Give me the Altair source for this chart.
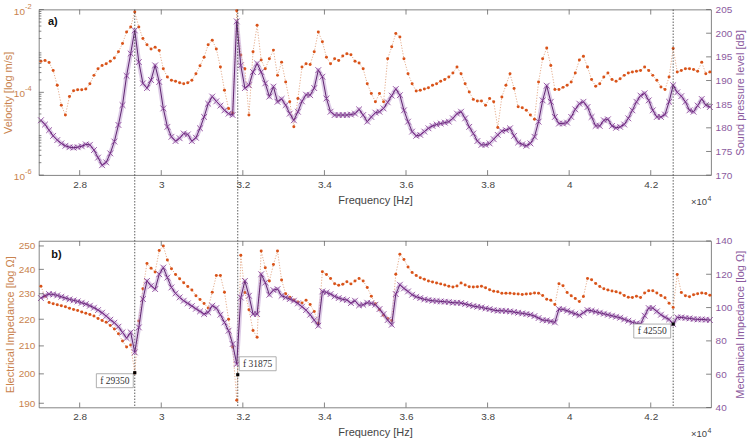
import altair as alt
import pandas as pd

# ---------------- measured sweep (100 Hz step) ----------------
freq_hz = list(range(27050, 43451, 100))

# a) surface velocity, stored as log10(m/s)
velocity_log10 = [
    -3.25, -3.23, -3.28, -3.47, -3.83, -4.31, -4.55, -4.10, -3.96, -3.94,
    -3.94, -3.92, -3.79, -3.59, -3.43, -3.35, -3.31, -3.25, -3.17, -3.02,
    -2.82, -2.54, -2.42, -2.06, -2.42, -2.70, -2.85, -2.95, -2.91, -2.99,
    -3.43, -3.63, -3.71, -3.73, -3.77, -3.79, -3.77, -3.71, -3.55, -3.36,
    -3.15, -2.85, -2.74, -2.95, -3.39, -3.95, -4.39, -4.50, -2.03, -3.10,
    -3.43, -4.55, -3.02, -2.38, -3.22, -3.43, -3.19, -2.98, -3.59, -3.27,
    -3.75, -4.23, -4.83, -4.15, -3.39, -3.31, -3.33, -3.02, -2.54, -2.78,
    -3.15, -3.31, -3.19, -3.23, -3.12, -3.07, -3.09, -3.25, -3.29, -3.43,
    -3.79, -4.03, -4.23, -4.03, -4.23, -3.19, -2.90, -2.58, -2.66, -3.19,
    -3.55, -3.79, -3.97, -3.95, -3.92, -3.89, -3.83, -3.79, -3.73, -3.69,
    -3.63, -3.53, -3.39, -3.55, -3.79, -3.99, -4.17, -4.21, -4.21, -4.31,
    -4.15, -4.23, -4.85, -4.11, -3.83, -3.55, -3.91, -4.35, -4.37, -4.43,
    -4.55, -4.65, -3.75, -3.19, -2.93, -3.35, -3.93, -3.93, -3.88, -3.83,
    -3.75, -3.53, -3.22, -3.13, -3.39, -3.69, -3.85, -3.79, -3.63, -3.53,
    -3.69, -3.73, -3.67, -3.59, -3.53, -3.51, -3.49, -3.47, -3.39, -3.47,
    -3.59, -3.71, -3.87, -3.93, -3.63, -2.94, -3.51, -3.47, -3.43, -3.43,
    -3.45, -3.49, -3.27, -3.55, -3.51,
]

# a) sound pressure level [dB]
spl_db = [
    181.6, 180.7, 179.5, 178.3, 177.4, 176.7, 176.2, 175.9, 175.8, 175.9,
    176.1, 176.5, 176.4, 175.3, 173.7, 172.1, 172.7, 174.6, 177.1, 180.6,
    184.8, 191.0, 195.7, 200.6, 193.9, 189.4, 188.4, 190.1, 193.2, 189.7,
    184.1, 180.2, 178.1, 177.2, 177.8, 178.8, 178.6, 177.2, 177.9, 179.9,
    182.3, 185.1, 186.6, 185.6, 184.7, 183.7, 183.0, 182.7, 202.5, 193.2,
    188.4, 189.0, 191.8, 193.6, 191.8, 189.4, 186.6, 188.7, 185.5, 186.1,
    184.8, 183.0, 181.6, 183.4, 185.6, 187.0, 186.9, 188.4, 192.2, 190.8,
    186.2, 183.4, 182.7, 182.7, 182.7, 182.7, 182.8, 183.0, 183.9, 182.7,
    181.3, 182.3, 183.2, 183.4, 184.1, 185.4, 186.8, 188.2, 186.9, 183.7,
    181.3, 179.2, 178.3, 178.5, 179.2, 179.9, 180.4, 180.7, 180.9, 181.1,
    181.3, 182.0, 183.0, 183.4, 182.0, 180.2, 178.8, 177.2, 176.4, 176.4,
    176.7, 177.6, 178.5, 179.3, 179.5, 179.9, 178.3, 176.9, 176.5, 176.2,
    176.7, 178.1, 181.3, 185.8, 188.9, 185.5, 182.3, 180.9, 180.9, 181.1,
    182.3, 183.9, 185.1, 185.5, 184.4, 182.3, 180.4, 180.4, 181.6, 181.8,
    180.4, 180.0, 180.2, 180.7, 182.0, 183.7, 185.5, 186.8, 187.3, 185.8,
    183.7, 182.3, 182.3, 182.8, 185.5, 189.0, 187.5, 186.7, 185.5, 183.7,
    183.4, 184.7, 186.1, 184.8, 184.4,
]

# b) electrical impedance [Ohm]
z_elec = [
    233.0, 229.0, 226.5, 226.0, 225.6, 225.2, 224.8, 224.3, 223.8, 223.4,
    222.8, 222.3, 221.8, 221.2, 220.3, 219.5, 218.8, 217.6, 216.3, 214.5,
    211.8, 209.6, 210.3, 200.3, 219.3, 232.0, 242.5, 240.5, 238.9, 248.0,
    250.0, 244.0, 240.3, 237.9, 236.1, 234.5, 232.9, 231.5, 229.2, 227.7,
    226.1, 224.4, 230.6, 237.4, 237.4, 230.6, 220.0, 209.6, 191.0, 246.0,
    230.5, 223.7, 215.7, 213.2, 247.8, 240.7, 235.2, 242.0, 247.8, 235.6,
    230.0, 228.6, 227.5, 226.7, 226.3, 227.4, 225.7, 223.0, 218.4, 239.0,
    237.9, 236.2, 234.1, 233.4, 233.8, 234.9, 234.0, 235.2, 236.2, 235.2,
    232.5, 229.0, 226.0, 223.7, 221.5, 220.3, 219.5, 238.0, 246.4, 244.2,
    241.0, 238.7, 237.4, 236.5, 235.9, 235.2, 234.8, 234.4, 234.0, 233.5,
    233.0, 232.7, 233.1, 234.4, 233.5, 232.8, 232.7, 232.8, 233.0, 232.4,
    231.6, 231.0, 230.8, 230.2, 230.2, 230.2, 230.0, 229.9, 229.7, 229.9,
    230.0, 230.3, 230.2, 229.3, 227.8, 227.4, 225.7, 234.1, 233.2, 230.5,
    229.2, 228.1, 226.9, 228.9, 236.2, 235.7, 234.2, 232.9, 232.0, 231.5,
    231.1, 230.8, 230.3, 229.3, 228.6, 228.5, 229.0, 228.5, 230.3, 231.2,
    231.2, 230.3, 229.3, 228.4, 226.2, 224.6, 237.9, 230.5, 229.2, 228.8,
    229.6, 230.0, 230.3, 230.1, 229.4,
]

# b) mechanical impedance [Ohm]
z_mech = [
    105.7, 107.1, 108.1, 107.9, 107.3, 106.5, 105.7, 104.9, 104.3, 103.7,
    102.9, 102.1, 101.1, 99.9, 98.5, 96.9, 94.9, 92.7, 90.9, 88.5,
    85.1, 81.7, 85.1, 73.1, 88.1, 105.1, 116.0, 113.1, 111.1, 120.0,
    124.0, 118.0, 112.1, 108.5, 106.1, 104.1, 102.5, 100.9, 99.3, 97.7,
    96.1, 97.1, 101.1, 99.7, 95.7, 91.1, 86.1, 78.1, 66.1, 106.0,
    116.0, 107.1, 96.1, 96.1, 120.0, 115.0, 107.7, 110.5, 111.1, 107.1,
    106.1, 105.1, 104.1, 102.5, 100.5, 98.5, 95.7, 92.5, 89.1, 109.7,
    109.1, 108.1, 106.7, 105.7, 104.9, 104.5, 102.7, 104.1, 101.3, 101.7,
    102.9, 102.5, 101.7, 99.1, 96.1, 92.5, 89.7, 108.1, 113.7, 111.5,
    109.7, 107.7, 106.5, 105.7, 104.9, 104.5, 104.1, 103.9, 103.7, 103.5,
    103.3, 102.9, 102.9, 102.7, 102.1, 101.5, 100.9, 100.5, 100.1, 99.5,
    99.1, 98.5, 98.1, 98.1, 97.9, 97.7, 97.3, 96.9, 96.5, 96.1,
    95.7, 94.9, 93.7, 92.5, 92.3, 91.7, 91.1, 99.1, 98.9, 98.1,
    97.1, 96.3, 95.3, 96.9, 98.5, 98.1, 97.5, 96.9, 96.3, 95.7,
    95.1, 94.5, 93.9, 92.9, 92.1, 91.1, 90.5, 90.1, 95.1, 99.7,
    99.7, 97.7, 95.7, 94.1, 92.9, 90.1, 94.1, 94.1, 93.7, 93.5,
    93.1, 92.9, 92.9, 92.7, 92.5,
]

# ---------------- ticks and data tips ----------------
x_ticks = [28000, 30000, 32000, 34000, 36000, 38000, 40000, 42000]
vel_ticks = [1e-6, 1e-4, 1e-2]
vel_exponents = ["-6", "-4", "-2"]
vel_minor = [m * 10.0 ** n for n in (-6, -5, -4, -3) for m in range(2, 10)]
spl_ticks = [170, 175, 180, 185, 190, 195, 200, 205]
ze_ticks = [190, 200, 210, 220, 230, 240, 250]
zm_ticks = [40, 60, 80, 100, 120, 140]

tip_freq = [29350, 31875, 42550]
tip_value = [200.4, 199.7, 90.1]
tip_label = ["f 29350", "f 31875", "f 42550"]

# ---------------- styling ----------------
ORANGE = "#D95319"
ORANGE_LINE = "#DA8A5E"
PURPLE = "#7E2F8E"
PURPLE_LINE = "#5E2470"
PURPLE_HALO = "#B48CC8"
LEFT_TXT = "#C9834E"
RIGHT_TXT = "#8B5A9E"
AXIS_TXT = "#444444"
FRAME = "#666666"
FONT = "Liberation Sans"
SERIF = "Liberation Serif"
W, HA, HB, GAP = 674, 166, 167, 66
TICK = 5
CROSS = "M-1,-1L1,1M-1,1L1,-1"
BOX = "M-1,-0.378H1V0.378H-1Z"

curves = pd.DataFrame({
    "freq": freq_hz,
    "vel": [10.0 ** e for e in velocity_log10],
    "spl": spl_db,
    "ze": z_elec,
    "zm": z_mech,
})
tips = pd.DataFrame({"freq": tip_freq, "val": tip_value, "label": tip_label})

X_SCALE = alt.Scale(domain=[27000, 43480], nice=False, zero=False)


def freq_axis(title_y):
    return alt.Axis(
        values=x_ticks, labelExpr="format(datum.value / 10000, '.1~f')",
        ticks=False, tickSize=0, domain=False, grid=False,
        labelFont=FONT, labelFontSize=10, labelColor=AXIS_TXT,
        labelPadding=9.5, labelBaseline="middle",
        title="Frequency [Hz]", titleFont=FONT, titleFontSize=11,
        titleFontWeight="normal", titleColor=AXIS_TXT,
        titleX=W / 2, titleY=title_y, titleBaseline="middle", titleAlign="center",
    )


def y_axis(orient, values, title, color, h, title_x, labels=True):
    return alt.Axis(
        orient=orient, values=values, labels=labels,
        ticks=False, tickSize=0, domain=False, grid=False,
        labelFont=FONT, labelFontSize=10, labelColor=color, labelPadding=4,
        labelBaseline="middle",
        title=title, titleFont=FONT, titleFontSize=11, titleFontWeight="normal",
        titleColor=color, titleAngle=270, titleX=title_x, titleY=h / 2,
        titleBaseline="middle", titleAlign="center",
    )


def build_panel(h, title_y):
    """Layer helpers for one panel; every layer carries the same x axis."""
    xa = freq_axis(title_y)

    def xenc():
        return alt.X("freq:Q", scale=X_SCALE, axis=xa)

    def yenc(field, yscale, axis=None):
        return alt.Y(f"{field}:Q", scale=yscale, axis=axis)

    layers = []

    def x_inward_ticks():
        tdf = pd.DataFrame({"freq": x_ticks})
        layers.append(alt.Chart(tdf).mark_rule(color=FRAME, strokeWidth=0.8).encode(
            x=xenc(), y=alt.value(h), y2=alt.value(h - TICK)))
        layers.append(alt.Chart(tdf).mark_rule(color=FRAME, strokeWidth=0.8).encode(
            x=xenc(), y=alt.value(0), y2=alt.value(TICK)))

    def y_inward_ticks(field, values, yscale, side, length=TICK):
        tdf = pd.DataFrame({field: values})
        if side == "left":
            xs = dict(x=alt.value(0), x2=alt.value(length))
        else:
            xs = dict(x=alt.value(W - length), x2=alt.value(W))
        layers.append(alt.Chart(tdf).mark_rule(color=FRAME, strokeWidth=0.8).encode(
            y=yenc(field, yscale), **xs))

    def orange_series(field, yscale, axis):
        layers.append(alt.Chart(curves).mark_line(
            color=ORANGE_LINE, strokeWidth=0.7, strokeDash=[1.2, 1.6]
        ).encode(x=xenc(), y=yenc(field, yscale, axis)))
        layers.append(alt.Chart(curves).mark_circle(color=ORANGE, size=9, opacity=1).encode(
            x=xenc(), y=yenc(field, yscale)))

    def purple_series(field, yscale, axis):
        layers.append(alt.Chart(curves).mark_line(
            color=PURPLE_HALO, strokeWidth=4.5, opacity=0.45, strokeJoin="round"
        ).encode(x=xenc(), y=yenc(field, yscale, axis)))
        layers.append(alt.Chart(curves).mark_line(color=PURPLE_LINE, strokeWidth=1.0).encode(
            x=xenc(), y=yenc(field, yscale)))
        layers.append(alt.Chart(curves).mark_point(
            shape=CROSS, size=34, filled=False, color=PURPLE, strokeWidth=0.9, opacity=0.85
        ).encode(x=xenc(), y=yenc(field, yscale)))

    def letter(text, px, py):
        layers.append(alt.Chart(pd.DataFrame({"t": [text]})).mark_text(
            font=FONT, fontSize=11, fontWeight="bold", color="#111111",
            align="center", baseline="middle",
        ).encode(x=alt.value(px), y=alt.value(py), text="t:N"))

    def multiplier():
        layers.append(alt.Chart(pd.DataFrame({"t": ["\u00d710"]})).mark_text(
            font=FONT, fontSize=9.5, color=AXIS_TXT, align="right", baseline="middle",
        ).encode(x=alt.value(W - 4), y=alt.value(h + 27), text="t:N"))
        layers.append(alt.Chart(pd.DataFrame({"t": ["4"]})).mark_text(
            font=FONT, fontSize=7, color=AXIS_TXT, align="left", baseline="middle",
        ).encode(x=alt.value(W - 3.5), y=alt.value(h + 24), text="t:N"))

    def tip(idx, field, yscale, dx, dy):
        one = tips.iloc[[idx]].rename(columns={"val": field})
        layers.append(alt.Chart(one).mark_point(
            shape=BOX, size=37 ** 2, filled=True, fill="#ffffff", stroke="#9c9c9c",
            strokeWidth=0.8, opacity=1, xOffset=dx, yOffset=dy,
        ).encode(x=xenc(), y=yenc(field, yscale)))
        layers.append(alt.Chart(one).mark_text(
            font=SERIF, fontSize=9.5, color="#333333", dx=dx, dy=dy,
            align="center", baseline="middle",
        ).encode(x=xenc(), y=yenc(field, yscale), text="label:N"))
        layers.append(alt.Chart(one).mark_square(size=10, color="#000000", opacity=1).encode(
            x=xenc(), y=yenc(field, yscale)))

    def tip_rules(total):
        layers.append(alt.Chart(tips).mark_rule(
            color="#333333", strokeWidth=0.8, strokeDash=[1.5, 1.5]
        ).encode(x=xenc(), y=alt.value(0), y2=alt.value(total)))

    def raw(layer):
        layers.append(layer)

    return dict(layers=layers, xenc=xenc, yenc=yenc, x_ticks=x_inward_ticks,
                y_ticks=y_inward_ticks, orange=orange_series, purple=purple_series,
                letter=letter, mult=multiplier, tip=tip, tip_rules=tip_rules, raw=raw)


# ---------------- panel a ----------------
vel_scale = alt.Scale(type="log", domain=[1e-6, 1e-2], nice=False)
spl_scale = alt.Scale(domain=[170, 205], nice=False, zero=False)

pa = build_panel(HA, 25.5)
pa["orange"]("vel", vel_scale,
             y_axis("left", vel_ticks, "Velocity [log m/s]", LEFT_TXT, HA, -30, labels=False))
pa["purple"]("spl", spl_scale,
             y_axis("right", spl_ticks, "Sound pressure level [dB]", RIGHT_TXT, HA, 29))
pa["y_ticks"]("vel", vel_ticks, vel_scale, "left")
pa["y_ticks"]("vel", vel_minor, vel_scale, "left", 2.5)
pa["y_ticks"]("spl", spl_ticks, spl_scale, "right")
pa["x_ticks"]()
vel_lab = pd.DataFrame({"vel": vel_ticks, "e": vel_exponents, "b": ["10"] * 3})
pa["raw"](alt.Chart(vel_lab).mark_text(
    font=FONT, fontSize=10, color=LEFT_TXT, align="right", baseline="middle", dy=2,
).encode(x=alt.value(-14), y=pa["yenc"]("vel", vel_scale), text="b:N"))
pa["raw"](alt.Chart(vel_lab).mark_text(
    font=FONT, fontSize=7.5, color=LEFT_TXT, align="left", baseline="middle", dy=-3,
).encode(x=alt.value(-14), y=pa["yenc"]("vel", vel_scale), text="e:N"))
pa["tip_rules"](HA + GAP + HB)
pa["letter"]("a)", 14, 12.5)
pa["mult"]()
panel_a = alt.layer(*pa["layers"]).resolve_scale(y="independent").properties(
    width=W, height=HA)

# ---------------- panel b ----------------
ze_scale = alt.Scale(type="log", domain=[188.6, 252.2], nice=False)
zm_scale = alt.Scale(domain=[40, 140], nice=False, zero=False)

pb = build_panel(HB, 25)
pb["orange"]("ze", ze_scale,
             y_axis("left", ze_ticks, "Electrical Impedance [log \u03a9]", LEFT_TXT, HB, -28))
pb["purple"]("zm", zm_scale,
             y_axis("right", zm_ticks, "Mechanical Impedance [log \u03a9]", RIGHT_TXT, HB, 29))
pb["y_ticks"]("ze", ze_ticks, ze_scale, "left")
pb["y_ticks"]("zm", zm_ticks, zm_scale, "right")
pb["x_ticks"]()
pb["letter"]("b)", 17.5, 14)
pb["mult"]()
pb["tip"](0, "ze", ze_scale, -20, 8)
pb["tip"](1, "ze", ze_scale, 20, -11)
pb["tip"](2, "zm", zm_scale, -21, 7)
panel_b = alt.layer(*pb["layers"]).resolve_scale(y="independent").properties(
    width=W, height=HB)

chart = alt.vconcat(panel_a, panel_b, spacing=GAP, bounds="flush").configure(
    background="white",
    padding={"left": 2, "top": 1, "right": 5, "bottom": 1},
).configure_view(stroke=FRAME, strokeWidth=0.8)

chart.save("out.html", embed_options={"renderer": "svg", "actions": False})
